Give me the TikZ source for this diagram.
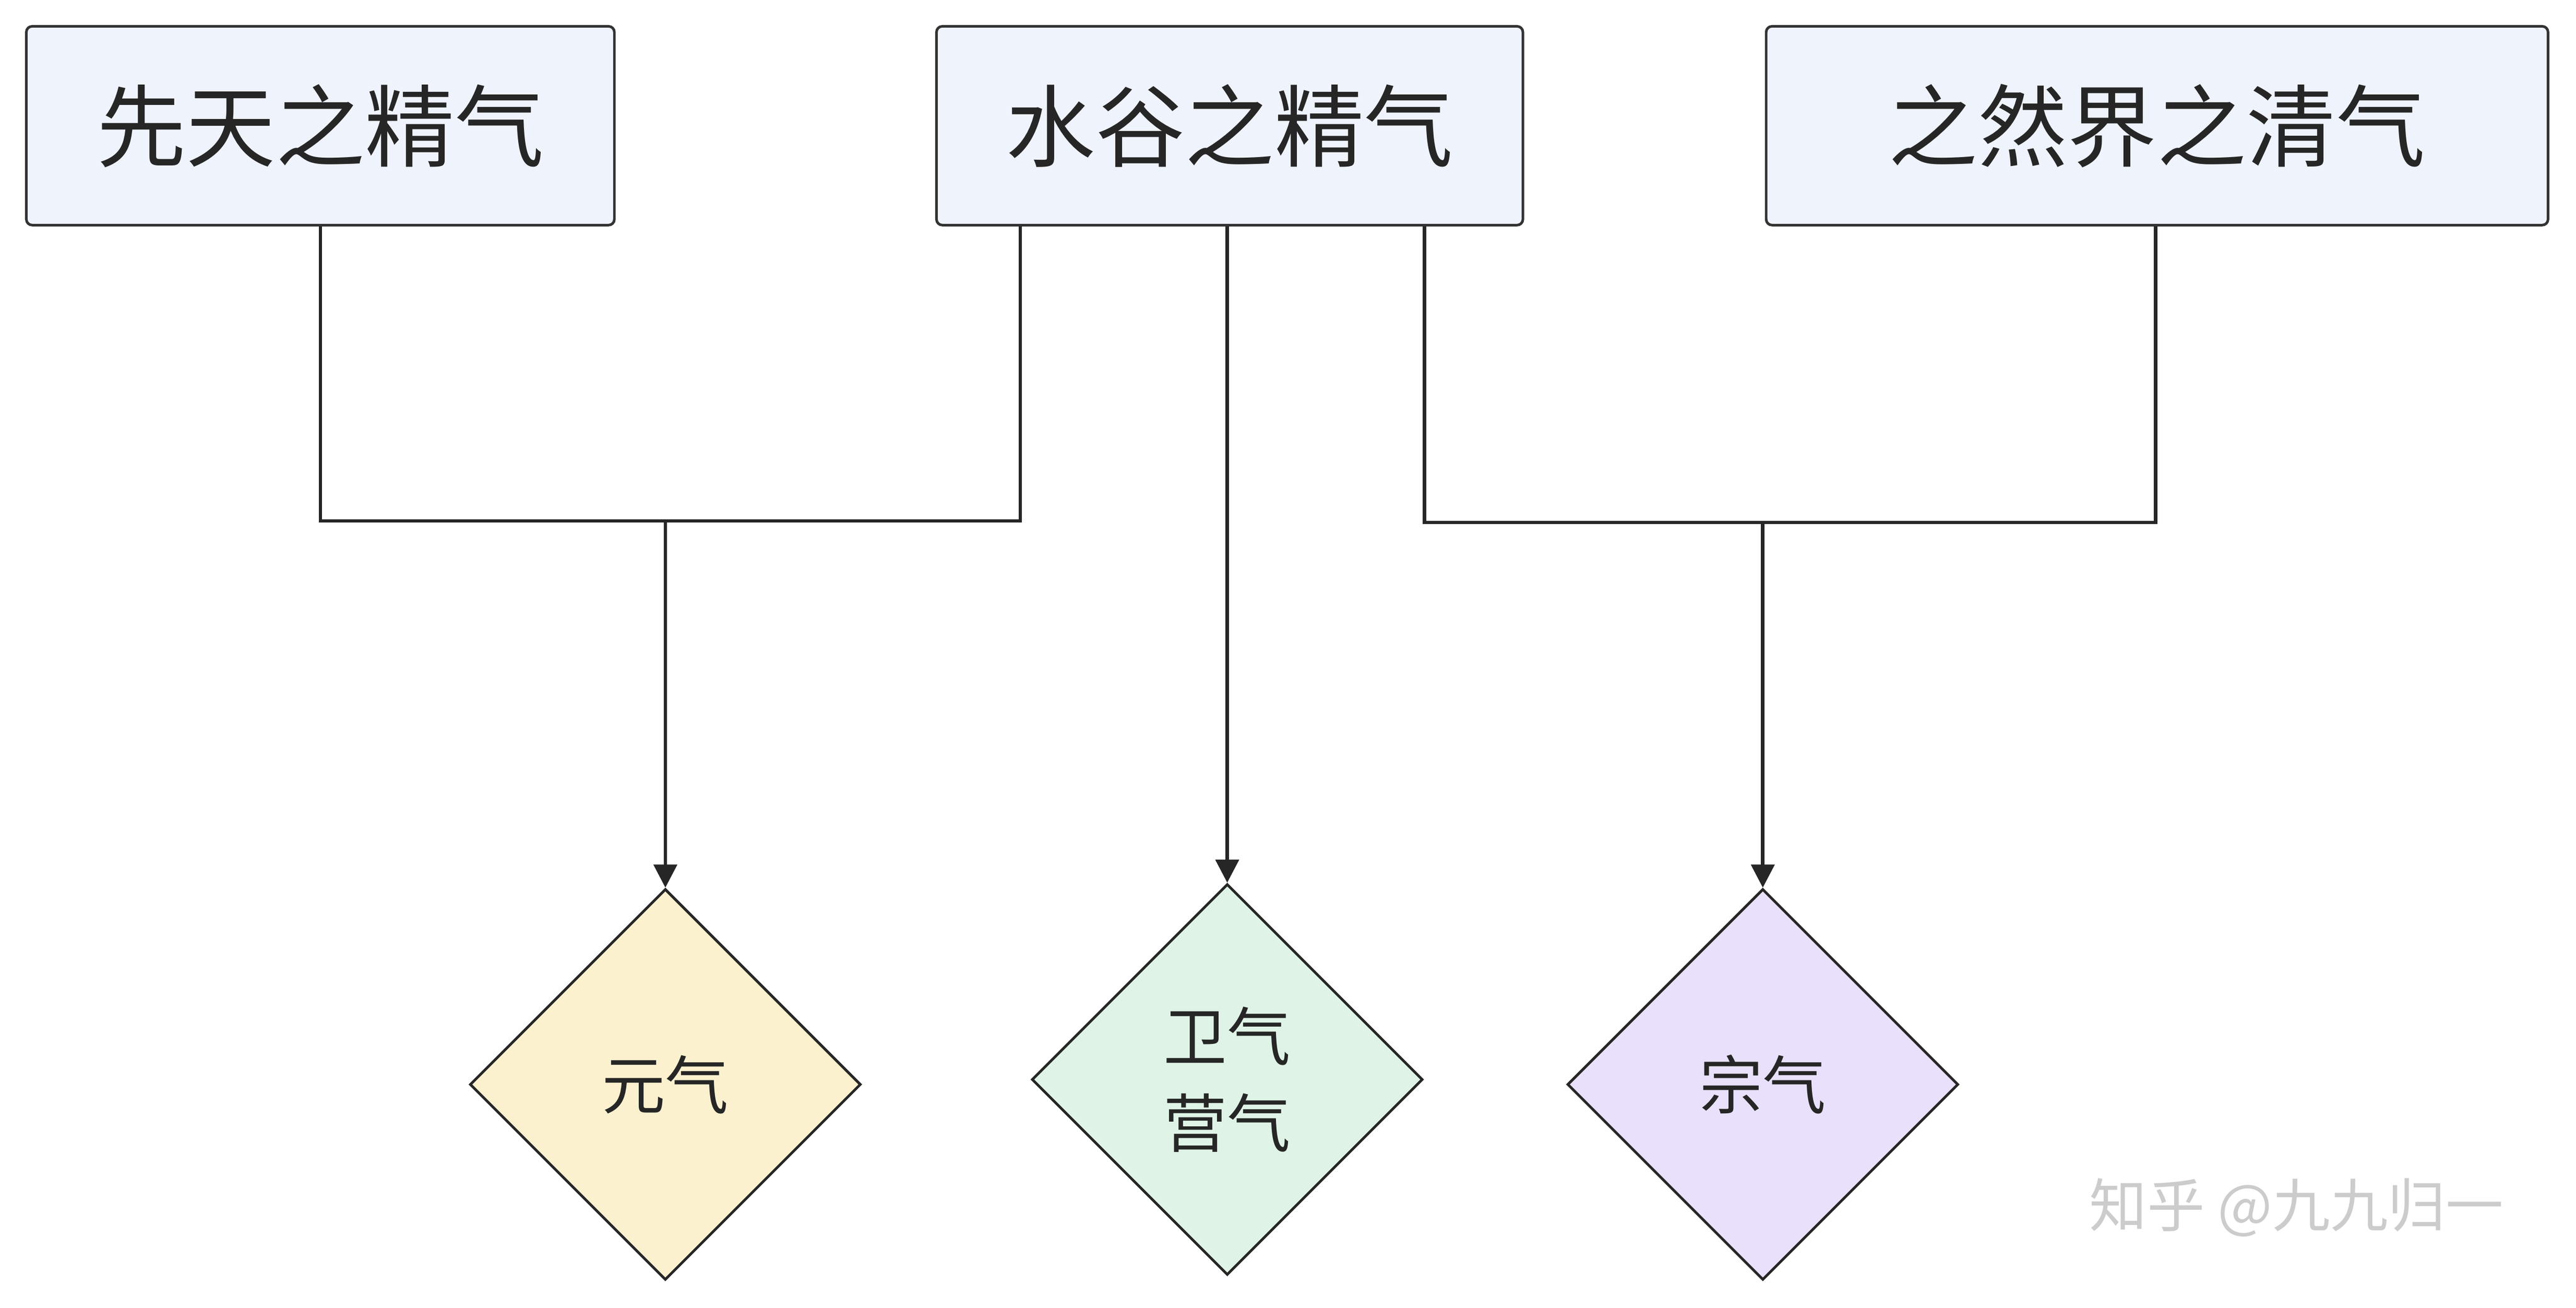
\documentclass[tikz,border=0pt]{standalone}
\usepackage{fontspec}
\setmainfont{Noto Sans CJK SC}
\usetikzlibrary{shapes.geometric,arrows.meta,calc}
\definecolor{boxfill}{HTML}{EFF3FC}
\definecolor{yuanfill}{HTML}{FCF1CF}
\definecolor{weifill}{HTML}{DFF4E6}
\definecolor{zongfill}{HTML}{E9E1FC}
\tikzset{
 src/.style={draw=black!80, fill=boxfill, rounded corners=2pt, line width=0.9pt,
   inner sep=0, font=\fontsize{31}{31}\selectfont, text=black!85},
 qi/.style={diamond, draw=black!85, line width=0.9pt, minimum width=4.76cm, minimum height=4.76cm,
   inner sep=0, font=\fontsize{22}{30}\selectfont, align=center, text=black!85},
 link/.style={black!85, line width=1.2pt},
 flow/.style={link, -{Triangle[length=8pt,width=8pt]}}
}
\begin{document}
\begin{tikzpicture}[x=0.02cm,y=-0.02cm]
\useasboundingbox (0,0) rectangle (1568,796);
% sources
\node[src, minimum width=7.16cm, minimum height=2.42cm] (xian) at (195,76.5) {先天之精气};
\node[src, minimum width=7.14cm, minimum height=2.42cm] (shui) at (748.5,76.5) {水谷之精气};
\node[src, minimum width=9.52cm, minimum height=2.42cm] (ziran) at (1313,76.5) {之然界之清气};
% results
\node[qi, fill=yuanfill] (yuan) at (405,660) {元气};
\node[qi, fill=weifill] (wei) at (747,657) {卫气\\营气};
\node[qi, fill=zongfill] (zong) at (1073,660) {宗气};
% junctions
\coordinate (j1) at (195,317);
\coordinate (j2) at (621,317);
\coordinate (j3) at (867,318);
\coordinate (j4) at (1312,318);
\draw[link] (xian.south) -- (j1) -- (j2) -- (j2 |- shui.south);
\draw[link] (j3 |- shui.south) -- (j3) -- (j4) -- (j4 |- ziran.south);
\draw[flow] (yuan.north |- j1) -- (yuan.north);
\draw[flow] (wei.north |- shui.south) -- (wei.north);
\draw[flow] (zong.north |- j3) -- (zong.north);
% watermark
\node[text=black!20, font=\fontsize{20}{20}\selectfont, anchor=east] (mark) at (1530,735) {知乎 @九九归一};
\end{tikzpicture}
\end{document}
